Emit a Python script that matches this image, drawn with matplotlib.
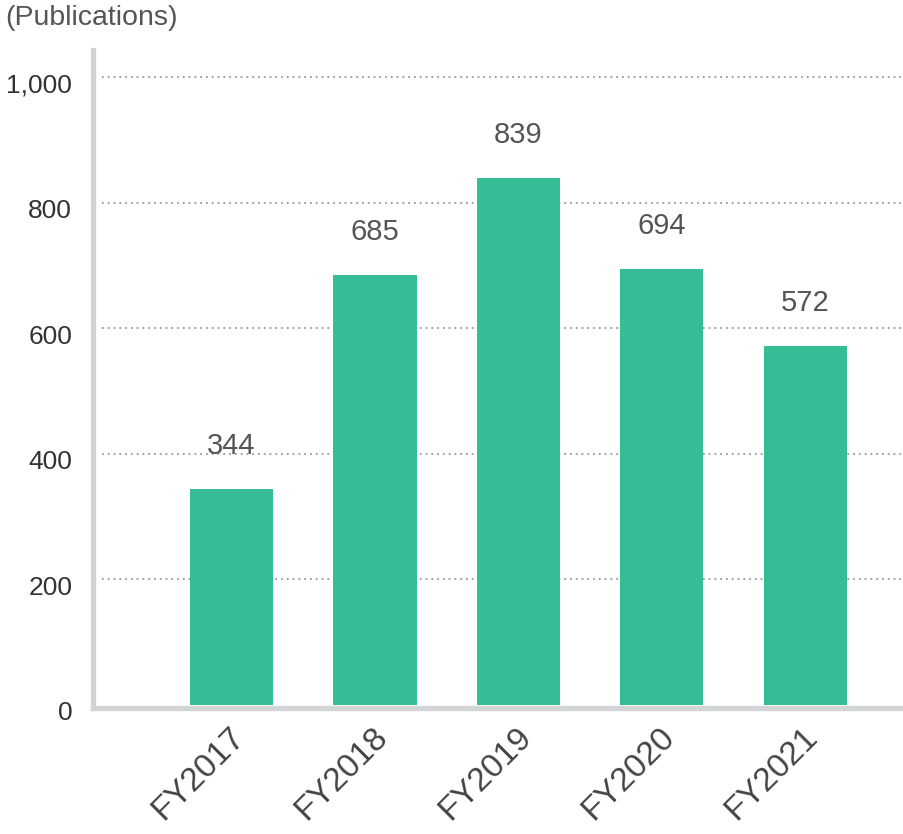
import matplotlib
matplotlib.use("Agg")
import matplotlib.pyplot as plt
import matplotlib.transforms as mtransforms

categories = ["FY2017", "FY2018", "FY2019", "FY2020", "FY2021"]
values = [344, 685, 839, 694, 572]
yticks = [0, 200, 400, 600, 800, 1000]
ytick_labels = ["0", "200", "400", "600", "800", "1,000"]

plt.rcParams['font.family'] = ['Liberation Sans', 'DejaVu Sans']

fig = plt.figure(figsize=(9.04, 8.34), dpi=100)
ax = fig.add_axes([93/904, 126.5/834, 1 - 93/904, (784 - 126.5)/834])

x = list(range(len(categories)))
bars = ax.bar(x, values, width=0.58, color="#36bc97", zorder=3)

ax.set_xlim(-0.966, 4.689)
ax.set_ylim(-4, 1043)

for s in ["top", "right"]:
    ax.spines[s].set_visible(False)
for s in ["left", "bottom"]:
    ax.spines[s].set_color("#d3d4d6")
    ax.spines[s].set_linewidth(3.8)

ax.set_yticks(yticks)
ax.set_yticklabels(ytick_labels, fontsize=19, color="#333333")
ax.tick_params(axis="y", length=0, pad=15)
offset = mtransforms.ScaledTranslation(0, -6/100, fig.dpi_scale_trans)
for lab in ax.get_yticklabels():
    lab.set_transform(lab.get_transform() + offset)

for yv in yticks[1:]:
    ax.plot([-0.9, 4.689], [yv, yv], linestyle=(0, (1, 2.2)), color="#999999",
            linewidth=1.3, zorder=1, solid_capstyle="butt")

ax.set_xticks(x)
ax.set_xticklabels(categories, fontsize=24, color="#444444", rotation=45,
                   ha="right", va="top", rotation_mode="anchor")
ax.tick_params(axis="x", length=0, pad=10)
xoff = mtransforms.ScaledTranslation(-3/100, 0, fig.dpi_scale_trans)
for lab in ax.get_xticklabels():
    lab.set_transform(lab.get_transform() + xoff)

for xi, v in zip(x, values):
    ax.annotate(f"{v}", (xi, v), xytext=(0, 25), textcoords="offset points",
                ha="center", va="baseline", fontsize=21, color="#555555")

fig.text(5/904, 1 - 18/834, "(Publications)", fontsize=20.5, color="#555555",
         ha="left", va="center")

fig.savefig("out.png", dpi=100)
